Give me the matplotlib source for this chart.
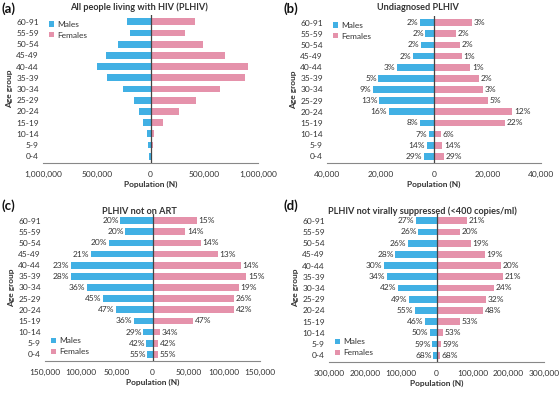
import matplotlib
matplotlib.use("Agg")
import matplotlib.pyplot as plt
from matplotlib.ticker import FuncFormatter
import numpy as np

plt.rcParams['font.family'] = ['Lato', 'DejaVu Sans']

age_groups = ["0-4", "5-9", "10-14", "15-19", "20-24", "25-29", "30-34",
              "35-39", "40-44", "45-49", "50-54", "55-59", "60-91"]

# values listed from 0-4 up to 60-91
a_males = [15000, 22000, 34000, 74000, 108000, 155000, 257000, 409000, 495000, 415000, 300000, 192000, 214000]
a_females = [9000, 19000, 31000, 118000, 269000, 427000, 650000, 876000, 904000, 690000, 489000, 322000, 412000]

b_males = [3700, 2700, 2000, 5400, 16900, 20500, 22900, 20800, 13900, 7800, 4900, 3200, 5100]
b_females = [3900, 3100, 2600, 26600, 29300, 20000, 18400, 16900, 13600, 10500, 9700, 8200, 14100]
b_males_pct = ["29%", "14%", "7%", "8%", "16%", "13%", "9%", "5%", "3%", "2%", "2%", "2%", "2%"]
b_females_pct = ["29%", "14%", "6%", "22%", "12%", "5%", "3%", "2%", "1%", "1%", "2%", "2%", "3%"]

c_males = [7000, 8400, 12600, 25600, 51200, 68800, 91600, 114000, 114000, 86000, 60500, 37700, 44700]
c_females = [7000, 7900, 10200, 56700, 114000, 113500, 120900, 130700, 122800, 90700, 67000, 45600, 61400]
c_males_pct = ["55%", "42%", "29%", "36%", "47%", "45%", "36%", "28%", "23%", "21%", "20%", "20%", "20%"]
c_females_pct = ["55%", "42%", "34%", "47%", "42%", "26%", "19%", "15%", "14%", "13%", "14%", "14%", "15%"]

d_males = [9300, 12000, 18600, 32600, 60000, 76000, 107000, 139000, 146000, 114600, 80000, 50300, 57800]
d_females = [9300, 13000, 17700, 64300, 130500, 138000, 161000, 186400, 180800, 135000, 95000, 64300, 85700]
d_males_pct = ["68%", "59%", "50%", "46%", "55%", "49%", "42%", "34%", "30%", "28%", "26%", "26%", "27%"]
d_females_pct = ["68%", "59%", "53%", "53%", "48%", "32%", "24%", "21%", "20%", "19%", "19%", "20%", "21%"]

BLUE = "#41b0e4"
PINK = "#e592ab"
TXT = "#333333"

fig = plt.figure(figsize=(5.6, 3.96), dpi=100)

def px(l, b, r, t):
    W, H = 560.0, 396.0
    return [l / W, 1 - b / H, (r - l) / W, (b - t) / H]

panels = [
    dict(rect=px(43, 163, 258, 15), m=a_males, f=a_females, mp=None, fp=None,
         lim=1000000, ticks=[-1000000, -500000, 0, 500000, 1000000],
         title="All people living with HIV (PLHIV)", lab="(a)", leg="upper left",
         tx=139, ty=7, lx=2, ly=9),
    dict(rect=px(327, 163, 541, 16), m=b_males, f=b_females, mp=b_males_pct, fp=b_females_pct,
         lim=40000, ticks=[-40000, -20000, 0, 20000, 40000],
         title="Undiagnosed PLHIV", lab="(b)", leg="upper left",
         tx=418, ty=7, lx=283, ly=9),
    dict(rect=px(45, 361, 260, 214), m=c_males, f=c_females, mp=c_males_pct, fp=c_females_pct,
         lim=150000, ticks=[-150000, -100000, -50000, 0, 50000, 100000, 150000],
         title="PLHIV not on ART", lab="(c)", leg="lower left",
         tx=139, ty=212, lx=2, ly=206),
    dict(rect=px(329, 362, 544, 214), m=d_males, f=d_females, mp=d_males_pct, fp=d_females_pct,
         lim=300000, ticks=[-300000, -200000, -100000, 0, 100000, 200000, 300000],
         title="PLHIV not virally suppressed (<400 copies/ml)", lab="(d)", leg="lower left",
         tx=422, ty=211, lx=283, ly=206),
]

fmt = FuncFormatter(lambda v, p: f"{abs(int(round(v))):,}")
FS = 6.0

for P in panels:
    ax = fig.add_axes(P["rect"])
    y = np.arange(len(age_groups))
    m = np.array(P["m"], dtype=float)
    f = np.array(P["f"], dtype=float)
    ax.barh(y, -m, height=0.6, color=BLUE, label="Males", zorder=2)
    ax.barh(y, f, height=0.6, color=PINK, label="Females", zorder=2)
    ax.axvline(0, color="#444444", lw=0.9, zorder=3)
    ax.set_xlim(-P["lim"], P["lim"])
    ax.set_ylim(-0.6, len(age_groups) - 0.4)
    ax.set_yticks(y)
    ax.set_yticklabels(age_groups)
    ax.set_xticks(P["ticks"])
    ax.xaxis.set_major_formatter(fmt)
    ax.tick_params(axis="both", length=0, labelsize=FS, colors=TXT, pad=3)
    ax.tick_params(axis="x", pad=6)
    for s in ["top", "right", "left"]:
        ax.spines[s].set_visible(False)
    ax.spines["bottom"].set_color("#888888")
    ax.spines["bottom"].set_linewidth(0.8)
    ax.set_xlabel("Population (N)", fontsize=FS, fontweight="bold", color=TXT, labelpad=2)
    ax.set_ylabel("Age group", fontsize=FS, fontweight="bold", color=TXT, labelpad=2)
    off = P["lim"] * 0.015
    if P["mp"] is not None:
        for i in range(len(age_groups)):
            ax.text(-m[i] - off, y[i], P["mp"][i], ha="right", va="center",
                    fontsize=FS, color=TXT)
            ax.text(f[i] + off, y[i], P["fp"][i], ha="left", va="center",
                    fontsize=FS, color=TXT)
    leg = ax.legend(loc=P["leg"], frameon=False, fontsize=FS, handlelength=0.6,
                    handleheight=0.6, handletextpad=0.4, labelspacing=0.45,
                    borderaxespad=0.3)
    for t in leg.get_texts():
        t.set_color(TXT)
    fig.text(P["tx"] / 560.0, 1 - P["ty"] / 396.0, P["title"], ha="center", va="center",
             fontsize=6.6, fontweight="bold", color=TXT)
    fig.text(P["lx"] / 560.0, 1 - P["ly"] / 396.0, P["lab"], ha="left", va="center",
             fontsize=9.5, fontweight="bold", color="#111111")

fig.savefig("out.png", dpi=100)
